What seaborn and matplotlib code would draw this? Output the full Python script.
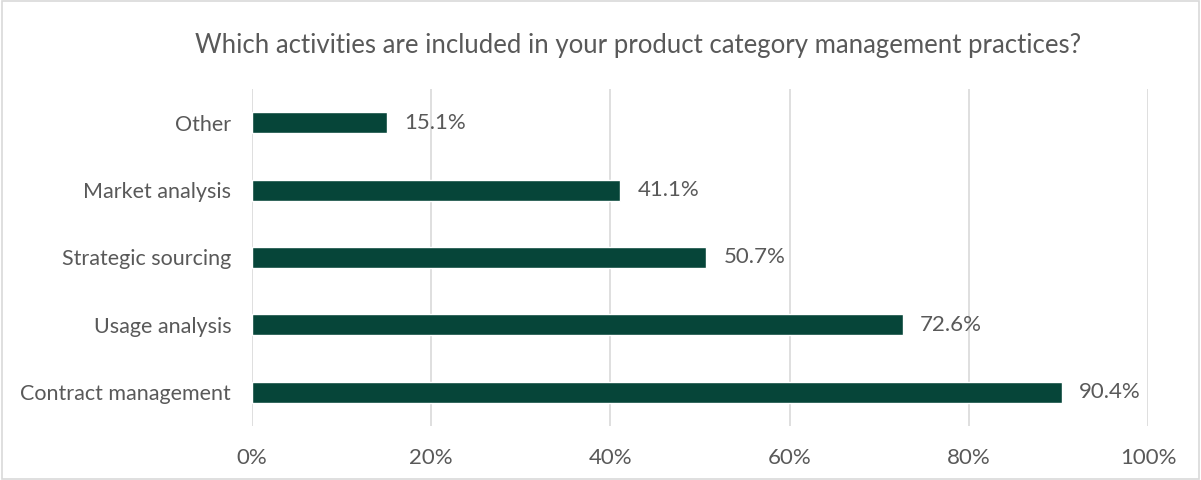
import matplotlib
matplotlib.use("Agg")
import matplotlib.pyplot as plt
import seaborn as sns
import pandas as pd
from matplotlib.ticker import FuncFormatter
from matplotlib.patches import Rectangle

# Survey responses: share of respondents including each activity
activities = ["Other", "Market analysis", "Strategic sourcing", "Usage analysis", "Contract management"]
shares = [15.1, 41.1, 50.7, 72.6, 90.4]
x_ticks = [0, 20, 40, 60, 80, 100]

df = pd.DataFrame({"activity": activities, "share": shares})

sns.set_theme(style="white")
plt.rcParams["font.family"] = ["Lato", "DejaVu Sans"]

text_color = "#595959"
bar_color = "#064539"
grid_color = "#d9d9d9"

fig = plt.figure(figsize=(12.01, 4.8), dpi=100)
ax = fig.add_axes([0.2098, 0.1125, 0.7462, 0.7021])

sns.barplot(data=df, x="share", y="activity", orient="h", color=bar_color,
            width=0.31, saturation=1, ax=ax, zorder=3)

ax.set_xlim(0, 100)
ax.set_ylim(4.5, -0.5)
ax.set_xticks(x_ticks)
ax.xaxis.set_major_formatter(FuncFormatter(lambda v, _: f"{v:.0f}%"))
ax.grid(axis="x", color=grid_color, linewidth=1.2, zorder=0)
ax.grid(axis="y", visible=False)
for s in ax.spines.values():
    s.set_visible(False)
ax.set_xlabel("")
ax.set_ylabel("")
ax.tick_params(axis="x", length=0, pad=15.5, labelsize=16, labelcolor=text_color)
ax.tick_params(axis="y", length=0, pad=15, labelsize=15.5, labelcolor=text_color)

for i, v in enumerate(shares):
    ax.text(v + 1.9, i, f"{v:.1f}%", va="center", ha="left",
            fontsize=16, color=text_color, zorder=4)

fig.text(0.531, 0.905, "Which activities are included in your product category management practices?",
         ha="center", va="center", fontsize=18.5, color=text_color)

# light frame around the whole chart area
fig.patches.append(Rectangle((0.002, 0.003), 0.996, 0.994, transform=fig.transFigure,
                             fill=False, edgecolor=grid_color, linewidth=1.2))

fig.savefig("out.png", dpi=100, facecolor="white")
